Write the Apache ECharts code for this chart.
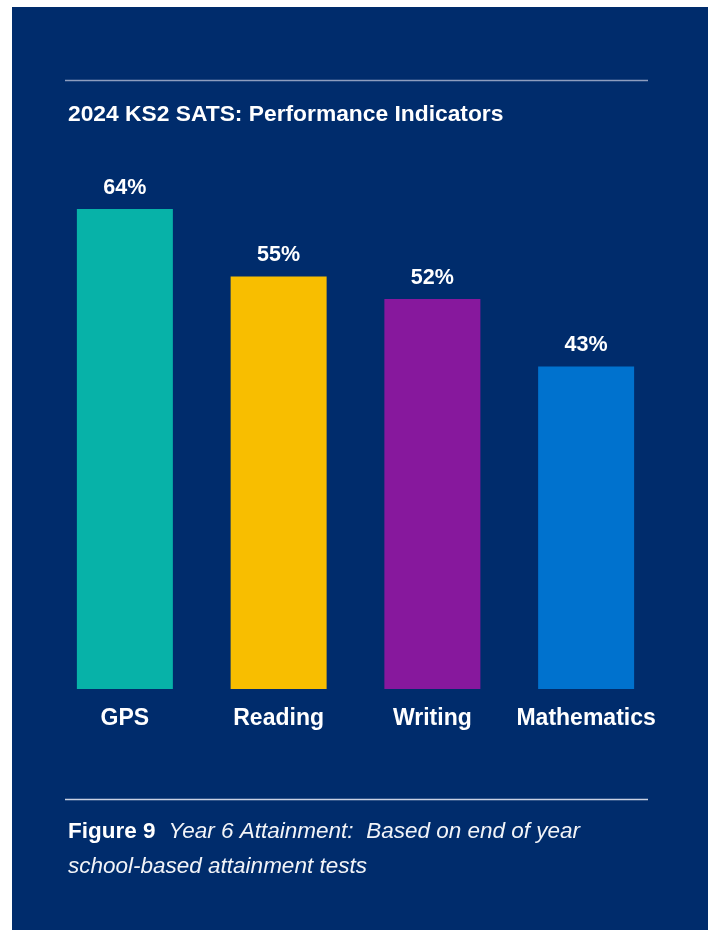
<!DOCTYPE html>
<html>
<head>
<meta charset="utf-8">
<title>2024 KS2 SATS: Performance Indicators</title>
<script src="https://cdn.jsdelivr.net/npm/echarts@6/dist/echarts.min.js"></script>
<style>
  html, body { margin: 0; padding: 0; background: #ffffff; }
  #chart { width: 711px; height: 930px; }
</style>
</head>
<body>
<div id="chart"></div>
<script>
// KS2 SATs results by subject
const subjects = ['GPS', 'Reading', 'Writing', 'Mathematics'];
const percentages = [64, 55, 52, 43];
const barColors = ['#07b2a8', '#f8be00', '#87189d', '#0072ce'];

const NAVY = '#002c6c';
const FONT = '"Liberation Sans", Arial, Helvetica, sans-serif';

const chart = echarts.init(document.getElementById('chart'), null, { renderer: 'canvas' });

chart.setOption({
  backgroundColor: '#ffffff',
  animation: false,
  title: {
    text: '2024 KS2 SATS: Performance Indicators',
    left: 63,
    top: 98,
    textStyle: { color: '#ffffff', fontFamily: FONT, fontWeight: 'bold', fontSize: 22.8 }
  },
  grid: { left: 48, right: 48, top: 209, bottom: 241, containLabel: false },
  xAxis: {
    type: 'category',
    data: subjects,
    axisLine: { show: false },
    axisTick: { show: false },
    axisLabel: {
      color: '#ffffff', fontFamily: FONT, fontWeight: 'bold', fontSize: 23,
      margin: 18, interval: 0
    }
  },
  yAxis: {
    type: 'value',
    min: 0,
    max: 64,
    show: false,
    splitLine: { show: false }
  },
  graphic: [
    { type: 'rect', z: -10, silent: true,
      shape: { x: 12, y: 7, width: 696, height: 930 },
      style: { fill: NAVY } },
    { type: 'line', silent: true,
      shape: { x1: 65, y1: 80.5, x2: 648, y2: 80.5 },
      style: { stroke: '#8d9dbf', lineWidth: 1.5 } },
    { type: 'line', silent: true,
      shape: { x1: 65, y1: 799.5, x2: 648, y2: 799.5 },
      style: { stroke: '#c9d1e2', lineWidth: 1.5 } },
    { type: 'text', silent: true, left: 68, top: 820,
      style: {
        text: '{b|Figure 9}{s| }{i|Year 6 Attainment:  Based on end of year}\n{i|school-based attainment tests}',
        fill: '#ffffff',
        rich: {
          b: { fontFamily: FONT, fontWeight: 'bold', fontSize: 22.5, fill: '#ffffff', lineHeight: 35 },
          s: { width: 13, fontSize: 22.5, lineHeight: 35 },
          i: { fontFamily: FONT, fontStyle: 'italic', fontSize: 22.5, fill: '#f2f4f8', lineHeight: 35 }
        }
      } }
  ],
  series: [{
    type: 'bar',
    data: percentages.map((v, i) => ({ value: v, itemStyle: { color: barColors[i] } })),
    barWidth: 96,
    label: {
      show: true,
      position: 'top',
      distance: 10,
      formatter: '{c}%',
      color: '#ffffff',
      fontFamily: FONT,
      fontWeight: 'bold',
      fontSize: 21.5
    }
  }]
});
</script>
</body>
</html>
